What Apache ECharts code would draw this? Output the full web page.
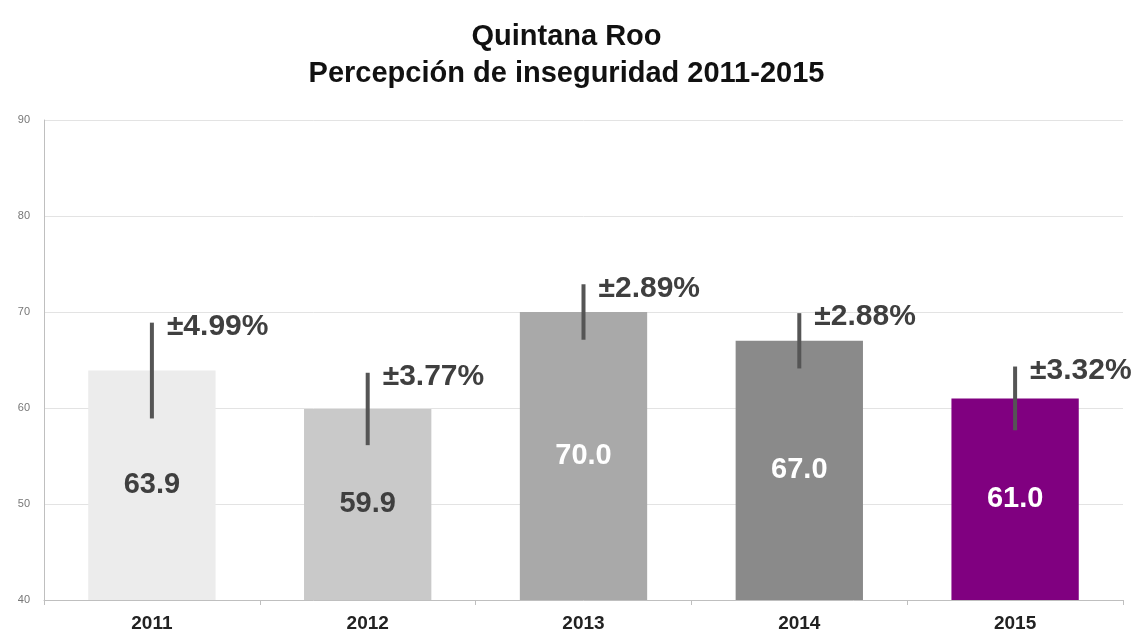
<!DOCTYPE html>
<html lang="es">
<head>
    <meta charset="UTF-8">
    <title>Quintana Roo - Percepción de inseguridad</title>
    <script src="https://cdn.jsdelivr.net/npm/echarts@6/dist/echarts.min.js"></script>
    <style>
        html, body { margin: 0; padding: 0; background: #fff; }
    </style>
</head>
<body>
<div id="main" style="width:1133px;height:639px;"></div>
<script type="text/javascript">
    var years = ['2011', '2012', '2013', '2014', '2015'];
    var values = [63.9, 59.9, 70.0, 67.0, 61.0];
    var errors = [4.99, 3.77, 2.89, 2.88, 3.32];
    var barColors = ['#ececec', '#c9c9c9', '#a9a9a9', '#8a8a8a', '#800080'];
    var labelColors = ['#3f3f3f', '#3f3f3f', '#ffffff', '#ffffff', '#ffffff'];

    var barData = values.map(function (v, i) {
        return {
            value: v,
            itemStyle: { color: barColors[i] },
            label: { color: labelColors[i] }
        };
    });

    // [indice, limite inferior, limite superior, texto]
    var errData = values.map(function (v, i) {
        return [i, v - errors[i], v + errors[i], '±' + errors[i].toFixed(2) + '%'];
    });

    var option = {
        backgroundColor: '#ffffff',
        title: {
            text: 'Quintana Roo\nPercepción de inseguridad 2011-2015',
            left: 'center',
            top: 13,
            textStyle: {
                fontFamily: 'Liberation Sans',
                fontWeight: 'bold',
                fontSize: 29,
                lineHeight: 37,
                color: '#111'
            }
        },
        grid: {
            left: 44,
            right: 10,
            top: 120,
            bottom: 39
        },
        xAxis: {
            type: 'category',
            data: years,
            axisLine: { lineStyle: { color: '#bfbfbf' } },
            axisTick: { show: true, lineStyle: { color: '#bfbfbf' } },
            axisLabel: {
                fontFamily: 'Liberation Sans',
                fontWeight: 'bold',
                fontSize: 19,
                color: '#222',
                margin: 14
            }
        },
        yAxis: {
            type: 'value',
            min: 40,
            max: 90,
            interval: 10,
            axisLine: { show: true, lineStyle: { color: '#bfbfbf' } },
            axisTick: { show: false },
            splitLine: { lineStyle: { color: '#e3e3e3' } },
            axisLabel: {
                fontFamily: 'Liberation Sans',
                fontSize: 11,
                color: '#777',
                margin: 14
            }
        },
        series: [
            {
                type: 'bar',
                data: barData,
                barWidth: '59%',
                label: {
                    show: true,
                    position: 'inside',
                    formatter: function (p) { return p.value.toFixed(1); },
                    fontFamily: 'Liberation Sans',
                    fontWeight: 'bold',
                    fontSize: 29
                }
            },
            {
                type: 'custom',
                data: errData,
                z: 5,
                renderItem: function (params, api) {
                    var lo = api.coord([api.value(0), api.value(1)]);
                    var hi = api.coord([api.value(0), api.value(2)]);
                    var label = errData[params.dataIndex][3];
                    return {
                        type: 'group',
                        children: [
                            {
                                type: 'line',
                                shape: { x1: hi[0], y1: hi[1], x2: lo[0], y2: lo[1] },
                                style: { stroke: '#555', lineWidth: 4 }
                            },
                            {
                                type: 'text',
                                style: {
                                    x: hi[0] + 15,
                                    y: hi[1] + 4,
                                    text: label,
                                    font: 'bold 30px "Liberation Sans"',
                                    fill: '#3f3f3f',
                                    verticalAlign: 'middle'
                                }
                            }
                        ]
                    };
                }
            }
        ]
    };

    var myChart = echarts.init(document.getElementById('main'));
    myChart.setOption(option);
</script>
</body>
</html>
